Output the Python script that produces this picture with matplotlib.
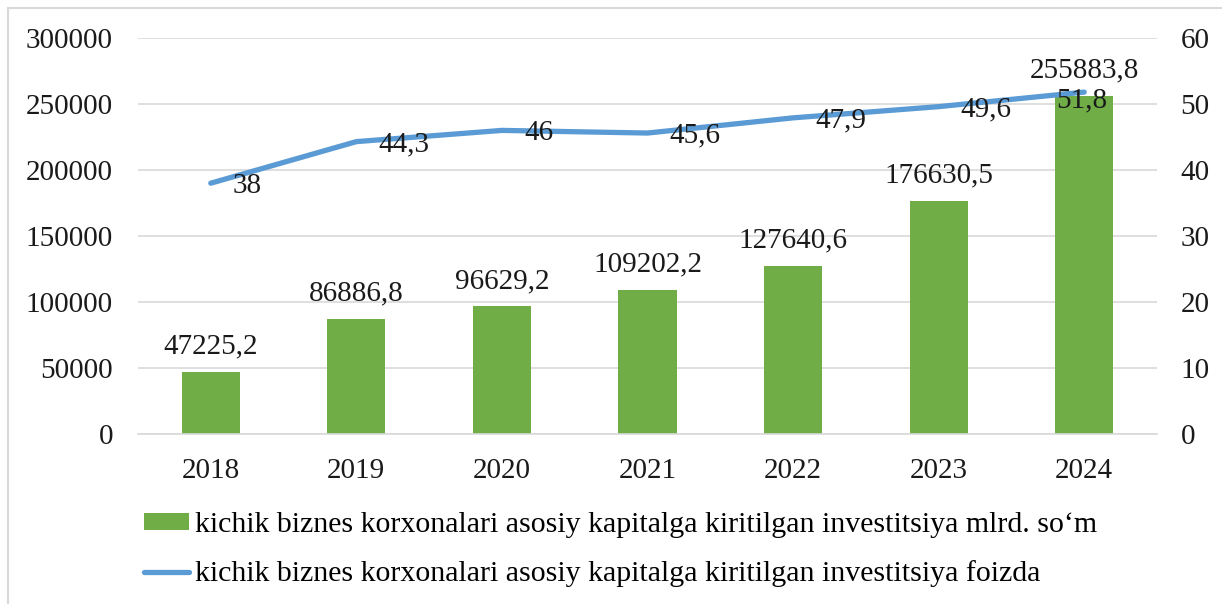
import matplotlib
matplotlib.use('Agg')
import matplotlib.pyplot as plt
from matplotlib.patches import Patch, Rectangle
from matplotlib.lines import Line2D
import numpy as np

# data
years = ['2018', '2019', '2020', '2021', '2022', '2023', '2024']
invest_mlrd = [47225.2, 86886.8, 96629.2, 109202.2, 127640.6, 176630.5, 255883.8]
invest_pct = [38, 44.3, 46, 45.6, 47.9, 49.6, 51.8]
bar_label = 'kichik biznes korxonalari asosiy kapitalga kiritilgan investitsiya mlrd. so\u2018m'
line_label = 'kichik biznes korxonalari asosiy kapitalga kiritilgan investitsiya foizda'

GREEN = '#70AD47'
BLUE = '#5B9BD5'
GRID = '#D9D9D9'
FS = 21

plt.rcParams['font.family'] = ['Liberation Serif', 'DejaVu Serif']
plt.rcParams['font.size'] = FS


def fmt(v):
    # excel style: comma as decimal sign, no trailing ",0"
    if float(v).is_integer():
        return str(int(v))
    return ('%.1f' % v).replace('.', ',')


fig = plt.figure(figsize=(12.22, 6.04), dpi=100)
W, H = 1222, 604

# light border (only left/top visible in the reference crop)
fig.patches.append(Rectangle((8 / W, -0.1), 1.2, 1 - 8 / H + 0.1,
                             transform=fig.transFigure, fill=False,
                             edgecolor='#D9D9D9', linewidth=1.5))

ax = fig.add_axes([138 / W, 1 - 434 / H, (1157 - 138) / W, (434 - 38) / H])
ax2 = ax.twinx()

x = np.arange(len(years))
bars = ax.bar(x, invest_mlrd, width=0.4, color=GREEN, zorder=2)
ax.set_ylim(0, 300000)
ax.set_yticks(np.arange(0, 300001, 50000))
ax.set_xlim(-0.5, len(years) - 0.5)
ax.set_xticks(x)
ax.set_xticklabels(years)
ax.grid(axis='y', color=GRID, linewidth=1.2, zorder=0)
ax.set_axisbelow(True)
for s in ['top', 'left', 'right']:
    ax.spines[s].set_visible(False)
ax.spines['bottom'].set_color(GRID)
ax.spines['bottom'].set_linewidth(1.2)
ax.tick_params(axis='both', length=0, labelsize=FS, colors='#1a1a1a')
ax.tick_params(axis='y', pad=18)
ax.tick_params(axis='x', pad=17)

for xi, v in zip(x, invest_mlrd):
    ax.annotate(fmt(v), (xi, v), xytext=(0, 9), textcoords='offset points',
                ha='center', va='bottom', fontsize=FS, color='#1a1a1a')

ax2.plot(x, invest_pct, color=BLUE, linewidth=3.8, solid_capstyle='round',
         solid_joinstyle='round', zorder=3)
ax2.set_ylim(0, 60)
ax2.set_yticks(np.arange(0, 61, 10))
for s in ['top', 'left', 'right', 'bottom']:
    ax2.spines[s].set_visible(False)
ax2.tick_params(axis='y', length=0, labelsize=FS, pad=17, colors='#1a1a1a')

last = len(x) - 1
for i, (xi, v) in enumerate(zip(x, invest_pct)):
    if i == last:
        # excel pushed the last label back inside the plot area
        ax2.annotate(fmt(v), (xi, v), xytext=(-2, -6), textcoords='offset points',
                     ha='center', va='center', fontsize=FS, color='#1a1a1a')
    else:
        ax2.annotate(fmt(v), (xi, v), xytext=(16, -2), textcoords='offset points',
                     ha='left', va='center', fontsize=FS, color='#1a1a1a')

handles = [Patch(facecolor=GREEN, edgecolor='none'),
           Line2D([0], [0], color=BLUE, linewidth=3.8, solid_capstyle='round')]
fig.legend(handles, [bar_label, line_label], loc='upper left',
           bbox_to_anchor=(144 / W, 1 - 512 / H), frameon=False,
           handlelength=1.5, handleheight=0.5, handletextpad=0.2,
           labelspacing=0.75, borderpad=0, borderaxespad=0, fontsize=21.5)

fig.savefig('out.png', dpi=100)
